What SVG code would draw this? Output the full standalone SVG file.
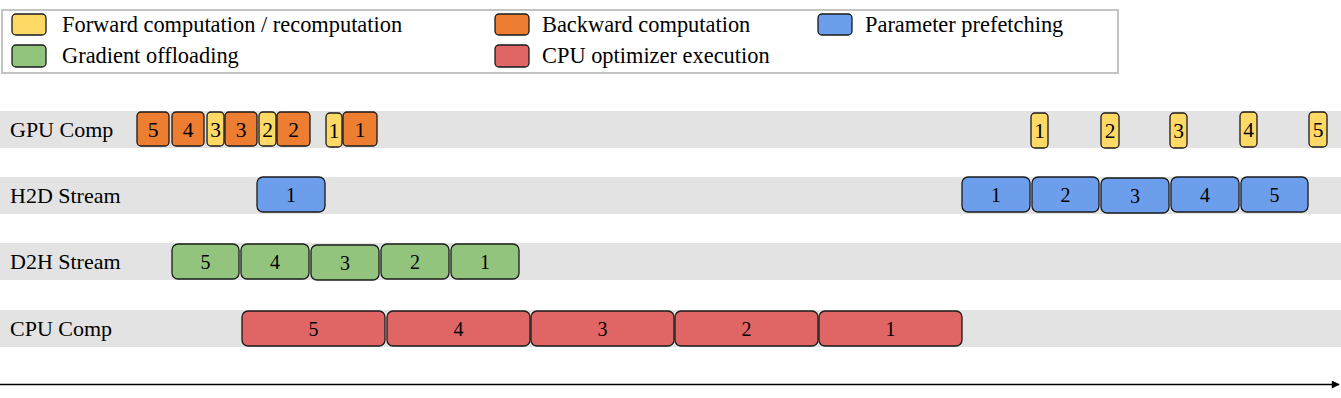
<svg xmlns="http://www.w3.org/2000/svg" width="1341" height="398" viewBox="0 0 1341 398" font-family="'Liberation Serif', 'Times New Roman', 'DejaVu Serif', serif">
<defs>
<style>
.lg{font-size:22.4px}
.rl{font-size:22px}
.bn{font-size:20px;text-anchor:middle}
.gn{font-size:21.5px;text-anchor:middle}
.band{fill:#e3e3e3}
.b{stroke:#1a1a1a;stroke-width:1.3}
.fw{fill:#ffd966}
.bw{fill:#ed7d31}
.pf{fill:#6d9eeb}
.go{fill:#93c47d}
.cpu{fill:#e06666}
</style>
<marker id="ah" viewBox="0 0 10 10" refX="9" refY="5" markerWidth="9" markerHeight="8" markerUnits="userSpaceOnUse" orient="auto"><path d="M0,0 L10,5 L0,10 z" fill="#000"/></marker>
</defs>
<rect width="1341" height="398" fill="#fff"/>
<g id="legend">
<rect x="2" y="10" width="1116" height="63" fill="#fff" stroke="#c4c4c4" stroke-width="2"/>
<rect class="b fw" x="12" y="14" width="34" height="21" rx="4"/>
<text class="lg" x="62" y="32">Forward computation / recomputation</text>
<rect class="b go" x="12" y="45" width="34" height="22" rx="4"/>
<text class="lg" x="62" y="63">Gradient offloading</text>
<rect class="b bw" x="495" y="14" width="34" height="21" rx="4"/>
<text class="lg" x="542" y="32">Backward computation</text>
<rect class="b cpu" x="495" y="45" width="34" height="22" rx="4"/>
<text class="lg" x="542" y="63">CPU optimizer execution</text>
<rect class="b pf" x="818" y="14" width="34" height="21" rx="4"/>
<text class="lg" x="865" y="32">Parameter prefetching</text>
</g>
<g id="bands">
<rect class="band" x="0" y="111" width="1341" height="37"/>
<rect class="band" x="0" y="177" width="1341" height="37"/>
<rect class="band" x="0" y="243" width="1341" height="37"/>
<rect class="band" x="0" y="310" width="1341" height="37"/>
<text class="rl" x="10" y="137">GPU Comp</text>
<text class="rl" x="10" y="203">H2D Stream</text>
<text class="rl" x="10" y="269">D2H Stream</text>
<text class="rl" x="10" y="336">CPU Comp</text>
</g>
<g id="gpu">
<g id="g-b5"><rect class="b bw" x="137" y="112" width="32" height="34" rx="4"/><text class="gn" x="153" y="137">5</text></g>
<g id="g-b4"><rect class="b bw" x="172" y="112" width="32" height="34" rx="4"/><text class="gn" x="188" y="137">4</text></g>
<g id="g-f3"><rect class="b fw" x="207" y="112" width="17" height="34" rx="4"/><text class="gn" x="215.5" y="137">3</text></g>
<g id="g-b3"><rect class="b bw" x="225" y="112" width="32" height="34" rx="4"/><text class="gn" x="241" y="137">3</text></g>
<g id="g-f2"><rect class="b fw" x="259" y="112" width="17" height="34" rx="4"/><text class="gn" x="267.5" y="137">2</text></g>
<g id="g-b2"><rect class="b bw" x="277" y="112" width="33" height="34" rx="4"/><text class="gn" x="293.5" y="137">2</text></g>
<g id="g-f1"><rect class="b fw" x="326" y="113" width="16" height="34" rx="4"/><text class="gn" x="334" y="138">1</text></g>
<g id="g-b1"><rect class="b bw" x="343" y="112" width="34" height="34" rx="4"/><text class="gn" x="360" y="137">1</text></g>
<g id="g-r1"><rect class="b fw" x="1031" y="113" width="17" height="35" rx="4"/><text class="gn" x="1039.5" y="138">1</text></g>
<g id="g-r2"><rect class="b fw" x="1101" y="113" width="18" height="35" rx="4"/><text class="gn" x="1110" y="138">2</text></g>
<g id="g-r3"><rect class="b fw" x="1170" y="113" width="17" height="35" rx="4"/><text class="gn" x="1178.5" y="138">3</text></g>
<g id="g-r4"><rect class="b fw" x="1240" y="112" width="17" height="35" rx="4"/><text class="gn" x="1248.5" y="137">4</text></g>
<g id="g-r5"><rect class="b fw" x="1309" y="112" width="18" height="35" rx="4"/><text class="gn" x="1318" y="137">5</text></g>
</g>
<g id="h2d">
<g id="h-1a"><rect class="b pf" x="257" y="177" width="68" height="35" rx="6"/><text class="bn" x="291" y="202">1</text></g>
<g id="h-1"><rect class="b pf" x="962" y="177" width="68" height="35" rx="6"/><text class="bn" x="996" y="202">1</text></g>
<g id="h-2"><rect class="b pf" x="1032" y="177" width="67" height="35" rx="6"/><text class="bn" x="1065.5" y="202">2</text></g>
<g id="h-3"><rect class="b pf" x="1101" y="178" width="68" height="35" rx="6"/><text class="bn" x="1135" y="203">3</text></g>
<g id="h-4"><rect class="b pf" x="1171" y="177" width="68" height="35" rx="6"/><text class="bn" x="1205" y="202">4</text></g>
<g id="h-5"><rect class="b pf" x="1241" y="177" width="67" height="35" rx="6"/><text class="bn" x="1274.5" y="202">5</text></g>
</g>
<g id="d2h">
<g id="d-5"><rect class="b go" x="172" y="244" width="67" height="35" rx="6"/><text class="bn" x="205.5" y="269">5</text></g>
<g id="d-4"><rect class="b go" x="241" y="244" width="68" height="35" rx="6"/><text class="bn" x="275" y="269">4</text></g>
<g id="d-3"><rect class="b go" x="311" y="245" width="68" height="35" rx="6"/><text class="bn" x="345" y="270">3</text></g>
<g id="d-2"><rect class="b go" x="381" y="244" width="68" height="35" rx="6"/><text class="bn" x="415" y="269">2</text></g>
<g id="d-1"><rect class="b go" x="451" y="244" width="68" height="35" rx="6"/><text class="bn" x="485" y="269">1</text></g>
</g>
<g id="cpu">
<g id="c-5"><rect class="b cpu" x="242" y="311" width="143" height="35" rx="6"/><text class="bn" x="313.5" y="336">5</text></g>
<g id="c-4"><rect class="b cpu" x="387" y="311" width="143" height="35" rx="6"/><text class="bn" x="458.5" y="336">4</text></g>
<g id="c-3"><rect class="b cpu" x="531" y="311" width="143" height="35" rx="6"/><text class="bn" x="602.5" y="336">3</text></g>
<g id="c-2"><rect class="b cpu" x="675" y="311" width="143" height="35" rx="6"/><text class="bn" x="746.5" y="336">2</text></g>
<g id="c-1"><rect class="b cpu" x="819" y="311" width="143" height="35" rx="6"/><text class="bn" x="890.5" y="336">1</text></g>
</g>
<g id="connectors">
<line x1="0" y1="384.5" x2="1339" y2="384.5" stroke="#000" stroke-width="1.5" marker-end="url(#ah)"/>
</g>
</svg>
